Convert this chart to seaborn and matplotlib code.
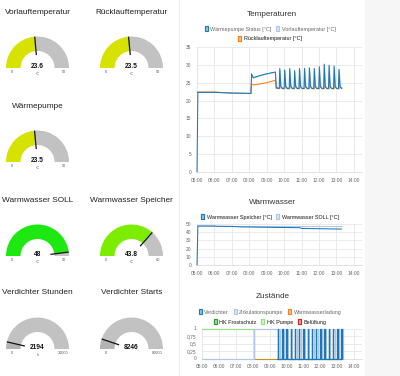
import numpy as np
import pandas as pd
import matplotlib
matplotlib.use("Agg")
import matplotlib.pyplot as plt
import seaborn as sns
from matplotlib.patches import Wedge, Rectangle, Patch
from matplotlib.colors import to_rgba

# ---------------- data ----------------
gauge_titles = ["Vorlauftemperatur", "Rücklauftemperatur", "Wärmepumpe",
                "Warmwasser SOLL", "Warmwasser Speicher",
                "Verdichter Stunden", "Verdichter Starts"]
gauge_values = [23.6, 23.5, 23.5, 48, 43.8, 2194, 8246]
gauge_labels = ["23.6", "23.5", "23.5", "48", "43.8", "2194", "8246"]
gauge_max = [50, 50, 50, 50, 60, 30000, 80000]
gauge_units = ["°C", "°C", "°C", "°C", "°C", "h", ""]

# Temperaturen
status_t = [5.0, 5.05, 6.0, 7.0, 8.0, 8.1, 8.13, 8.22, 8.6, 9.0, 9.5, 9.55]
status_v = [0, 22.3, 22.3, 22.1, 22.0, 22.0, 27.5, 26.4, 27.0, 27.5, 28.0, 23.6]
vorlauf_t = [5.0, 5.05, 6.0, 7.0, 8.0, 8.1, 8.14, 8.24, 8.6, 9.0, 9.5, 9.56]
vorlauf_v = [22.3, 22.3, 22.3, 22.1, 22.0, 22.0, 27.2, 26.3, 26.9, 27.4, 27.9, 23.7]
ruecklauf_t = [5.0, 5.05, 6.0, 7.0, 8.0, 8.08, 8.12, 8.3, 9.0, 9.5, 9.55]
ruecklauf_v = [22.4, 22.4, 22.4, 22.1, 22.0, 22.0, 24.5, 24.4, 25.0, 25.7, 23.4]
peak_t = [9.75, 10.03, 10.32, 10.6, 10.88, 11.17, 11.45, 11.73, 12.02, 12.3,
          12.58, 12.87, 13.15]
status_peak = [29.0, 28.6, 29.0, 28.4, 29.0, 29.0, 29.2, 29.0, 29.5, 30.2,
               29.9, 29.7, 28.8]
vorlauf_peak = [28.5, 28.2, 28.6, 28.0, 28.6, 28.6, 28.8, 28.6, 29.0, 29.6,
                29.4, 29.2, 28.3]
ruecklauf_peak = [24.6, 24.8, 24.9, 24.7, 25.0, 25.1, 25.0, 25.2, 25.4, 25.7,
                  25.5, 25.3, 25.0]
temp_trough = 23.4
ruecklauf_trough = 23.3
temp_end_t = 13.3

# Warmwasser
speicher_t = [5.0, 5.05, 6.0, 6.1, 7.0, 7.5, 9.0, 10.9, 11.0, 13.3]
speicher_v = [0, 47.6, 47.6, 47.3, 47.0, 46.5, 46.0, 45.5, 44.6, 43.8]
soll_t = [5.0, 5.05, 13.3]
soll_v = [48, 48, 48]

# Zustände
pulse_t = [9.5, 9.75, 10.0, 10.25, 10.5, 10.75, 11.0, 11.25, 11.5, 11.75,
           12.0, 12.25, 12.5, 12.75, 13.0, 13.25]
hk_pumpe_t = [5.0, 8.08, 8.08, 13.3]
hk_pumpe_v = [1, 1, 0, 0]
zirk_t = [5.0, 8.08, 8.08, 9.47, 9.47]
zirk_v = [0, 0, 1, 1, 0]
zero_t = [5.0, 13.3]
zero_v = [0, 0]

hours = list(range(5, 15))

# ---------------- style ----------------
sns.set_theme(style="white")
plt.rcParams["font.family"] = ["Liberation Sans", "DejaVu Sans"]

C_DARK = "#1f77b4"
C_LIGHT = "#aec7e8"
C_ORANGE = "#ff7f0e"
C_GREEN = "#2ca02c"
C_LGREEN = "#98df8a"
C_RED = "#d62728"
GRID = "#e6e6e6"
TICK = "#666666"

fig = plt.figure(figsize=(4.0, 3.76), dpi=100)
fig.patch.set_facecolor("white")

# overlay in pixel coordinates
ax_g = fig.add_axes([0, 0, 1, 1])
ax_g.set_xlim(0, 400)
ax_g.set_ylim(376, 0)
ax_g.axis("off")
ax_g.add_patch(Rectangle((365, 0), 35, 376, facecolor="#f6f6f6", edgecolor="none"))
ax_g.plot([178.5, 178.5], [0, 376], color="#eeeeee", lw=0.8)

# ---------------- gauges ----------------
gauge_pos = [(37.5, 68), (131.5, 68), (37.5, 162), (37.5, 256), (131.5, 256),
             (37.5, 349), (131.5, 349)]
gauge_fill = ["#d6e200", "#d6e200", "#d6e200", "#1ee812", "#7ded00", "#b3b3b3", "#b3b3b3"]
R_OUT, R_IN = 31.5, 17.0
for (cx, cy), title, val, lab, mx, unit, col in zip(gauge_pos, gauge_titles, gauge_values,
                                                   gauge_labels, gauge_max, gauge_units,
                                                   gauge_fill):
    f = max(0.0, min(1.0, val / mx))
    ax_g.add_patch(Wedge((cx, cy), R_OUT, 180, 180 + 180 * f, width=R_OUT - R_IN,
                         facecolor=col, edgecolor="none"))
    ax_g.add_patch(Wedge((cx, cy), R_OUT, 180 + 180 * f, 360, width=R_OUT - R_IN,
                         facecolor="#c2c2c2", edgecolor="none"))
    a = np.pi * (1 - f)
    ax_g.plot([cx + 13 * np.cos(a), cx + R_OUT * np.cos(a)],
              [cy - 13 * np.sin(a), cy - R_OUT * np.sin(a)],
              color="#111111", lw=0.9, solid_capstyle="butt")
    ax_g.text(cx, cy - 56, title, ha="center", va="center",
              fontsize=5.95, color="#222222")
    ax_g.text(cx, cy - 1.5, lab, ha="center", va="center", fontsize=4.8,
              fontweight="bold", color="#111111")
    if unit:
        ax_g.text(cx, cy + 6, unit, ha="center", va="center", fontsize=2.6, color="#555555")
    ax_g.text(cx - 26, cy + 4, "0", ha="center", va="center", fontsize=2.8, color="#555555")
    ax_g.text(cx + 26, cy + 4, str(mx), ha="center", va="center", fontsize=2.8,
              color="#555555")


# ---------------- charts ----------------
def px_axes(left, top, right, bottom):
    return fig.add_axes([left / 400, 1 - bottom / 376, (right - left) / 400,
                         (bottom - top) / 376])


def style_axes(ax, yticks, ylabels, ymax):
    ax.set_facecolor("none")
    ax.set_xlim(5.0, 14.47)
    ax.set_ylim(0, ymax)
    ax.set_xticks(hours)
    ax.set_xticklabels([f"{h:02d}:00" for h in hours])
    ax.set_yticks(yticks)
    ax.set_yticklabels(ylabels)
    ax.grid(True, color=GRID, lw=0.6, zorder=0)
    for s in ["top", "right"]:
        ax.spines[s].set_visible(False)
    for s in ["left", "bottom"]:
        ax.spines[s].set_color("#dddddd")
        ax.spines[s].set_linewidth(0.6)
        ax.spines[s].set_zorder(0.5)
    ax.tick_params(axis="both", length=2.5, width=0.6, color=GRID, labelcolor=TICK,
                   labelsize=3.5, pad=1.5)
    ax.set_xlabel("")
    ax.set_ylabel("")
    ax.set_axisbelow(True)
    for ln in ax.lines:
        ln.set_clip_on(False)


def spikes(t0, v0, peaks_t, peaks_v, trough, end_t):
    t = list(t0)
    v = list(v0)
    for pt, pv in zip(peaks_t, peaks_v):
        t += [pt - 0.03, pt, pt + 0.06, pt + 0.14]
        v += [trough, pv, trough + 0.5, trough]
    t.append(end_t)
    v.append(trough + 0.1)
    return t, v


def box_handle(color):
    fc = to_rgba(color)
    fc = tuple(0.55 + 0.45 * c for c in fc[:3]) + (1.0,)
    return Patch(facecolor=fc, edgecolor=color, linewidth=0.8)


def legend_rows(ax, rows, ys):
    for items, y in zip(rows, ys):
        leg = ax.legend(handles=[box_handle(c) for _, c in items],
                        labels=[n for n, _ in items], loc="center",
                        bbox_to_anchor=(270 / 400, 1 - y / 376),
                        bbox_transform=fig.transFigure, ncol=len(items), frameon=False,
                        fontsize=3.9, handlelength=0.55, handleheight=1.1,
                        handletextpad=0.45, columnspacing=0.9, borderpad=0,
                        borderaxespad=0, labelcolor=TICK)
        ax.add_artist(leg)


def draw(ax, series, order, palette, lw=0.75, lw_map=None):
    # draw bottom-most first; each series separately so the drawing order is explicit
    for i, name in enumerate(order):
        t, v = series[name]
        df = pd.DataFrame({"t": t, "v": v})
        w = lw_map.get(name, lw) if lw_map else lw
        sns.lineplot(data=df, x="t", y="v", color=palette[name], estimator=None,
                     sort=False, lw=w, ax=ax, zorder=2 + i * 0.1)


# Temperaturen
ax1 = px_axes(197, 47, 362, 172)
temp_series = {
    "Wärmepumpe Status [°C]": spikes(status_t, status_v, peak_t, status_peak,
                                     temp_trough, temp_end_t),
    "Vorlauftemperatur [°C]": spikes(vorlauf_t, vorlauf_v, [p + 0.02 for p in peak_t],
                                     vorlauf_peak, temp_trough + 0.1, temp_end_t),
    "Rücklauftemperatur [°C]": spikes(ruecklauf_t, ruecklauf_v, [p + 0.03 for p in peak_t],
                                      ruecklauf_peak, ruecklauf_trough, temp_end_t),
}
temp_colors = {"Wärmepumpe Status [°C]": C_DARK, "Vorlauftemperatur [°C]": C_LIGHT,
               "Rücklauftemperatur [°C]": C_ORANGE}
draw(ax1, temp_series, ["Rücklauftemperatur [°C]", "Vorlauftemperatur [°C]",
                        "Wärmepumpe Status [°C]"], temp_colors)
style_axes(ax1, list(range(0, 36, 5)), [str(v) for v in range(0, 36, 5)], 35)
ax_g.text(272, 14.5, "Temperaturen", ha="center", va="center", fontsize=5.9, color="#333333")
legend_rows(ax1, [[("Wärmepumpe Status [°C]", C_DARK), ("Vorlauftemperatur [°C]", C_LIGHT)],
                  [("Rücklauftemperatur [°C]", C_ORANGE)]], [29, 38.5])

# Warmwasser
ax2 = px_axes(197, 224, 362, 265)
ww_series = {"Warmwasser Speicher [°C]": (speicher_t, speicher_v),
             "Warmwasser SOLL [°C]": (soll_t, soll_v)}
draw(ax2, ww_series, ["Warmwasser SOLL [°C]", "Warmwasser Speicher [°C]"],
     {"Warmwasser Speicher [°C]": C_DARK, "Warmwasser SOLL [°C]": C_LIGHT})
style_axes(ax2, list(range(0, 51, 10)), [str(v) for v in range(0, 51, 10)], 50)
ax_g.text(272, 202, "Warmwasser", ha="center", va="center", fontsize=5.9, color="#333333")
legend_rows(ax2, [[("Warmwasser Speicher [°C]", C_DARK), ("Warmwasser SOLL [°C]", C_LIGHT)]],
            [217])

# Zustände
ax3 = px_axes(202, 328.5, 362, 358.5)


def pulses(t0, v0, times, offset, width, end_t):
    t = list(t0)
    v = list(v0)
    for p in times:
        q = p + offset
        t += [q, q, q + width, q + width]
        v += [0, 1, 1, 0]
    t.append(end_t)
    v.append(0)
    return t, v


state_series = {
    "Verdichter": pulses([9.45], [0], pulse_t, 0.0, 0.02, 13.3),
    "Zirkulationspumpe": pulses(zirk_t, zirk_v, pulse_t, 0.0, 0.1, 13.3),
    "Warmwasserladung": (zero_t, zero_v),
    "HK Frostschutz": (zero_t, zero_v),
    "HK Pumpe": (hk_pumpe_t, hk_pumpe_v),
    "Belüftung": (zero_t, zero_v),
}
state_colors = {"Verdichter": C_DARK, "Zirkulationspumpe": C_LIGHT,
                "Warmwasserladung": C_ORANGE, "HK Frostschutz": C_GREEN,
                "HK Pumpe": C_LGREEN, "Belüftung": C_RED}
draw(ax3, state_series, ["Belüftung", "HK Pumpe", "HK Frostschutz", "Warmwasserladung",
                         "Zirkulationspumpe", "Verdichter"], state_colors, lw=0.9,
     lw_map={"Belüftung": 0.5, "HK Frostschutz": 0.5, "Warmwasserladung": 0.5})
style_axes(ax3, [0, 0.25, 0.5, 0.75, 1], ["0", "0,25", "0,5", "0,75", "1"], 1)
ax_g.text(272.5, 296, "Zustände", ha="center", va="center", fontsize=5.9, color="#333333")
legend_rows(ax3, [[("Verdichter", C_DARK), ("Zirkulationspumpe", C_LIGHT),
                   ("Warmwasserladung", C_ORANGE)],
                  [("HK Frostschutz", C_GREEN), ("HK Pumpe", C_LGREEN),
                   ("Belüftung", C_RED)]], [312, 322])

fig.savefig("out.png", dpi=100, facecolor="white")
